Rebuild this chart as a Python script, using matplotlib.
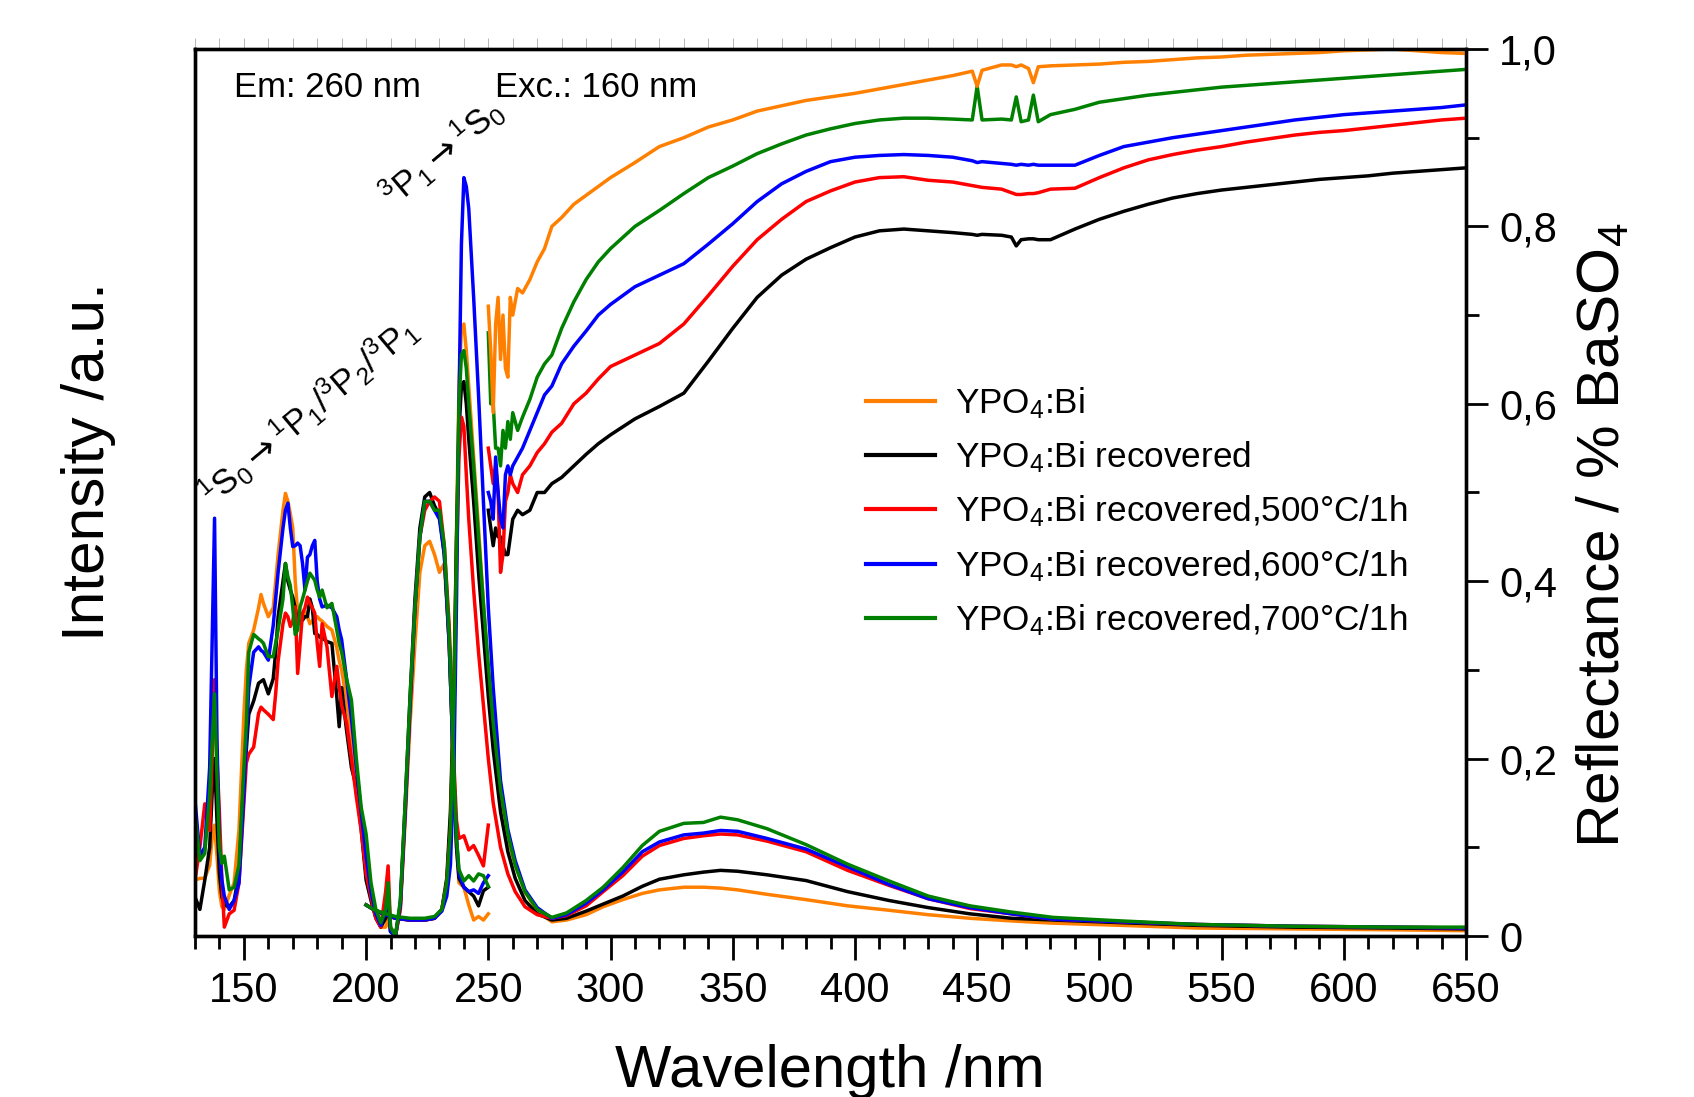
import matplotlib
matplotlib.use("Agg")
import matplotlib.pyplot as plt
from matplotlib.ticker import MultipleLocator, FixedLocator
from matplotlib.lines import Line2D

plt.rcParams['font.family'] = ['Liberation Sans', 'DejaVu Sans']
plt.rcParams['mathtext.fontset'] = 'custom'
plt.rcParams['mathtext.rm'] = 'Liberation Sans'
plt.rcParams['mathtext.it'] = 'Liberation Sans:italic'
plt.rcParams['mathtext.sf'] = 'DejaVu Sans'
plt.rcParams['mathtext.default'] = 'regular'

# ---------------- data ----------------
SAMPLES = ['YPO$_4$:Bi', 'YPO$_4$:Bi recovered', 'YPO$_4$:Bi recovered,500°C/1h',
           'YPO$_4$:Bi recovered,600°C/1h', 'YPO$_4$:Bi recovered,700°C/1h']
COLORS = ['#FF8000', '#000000', '#FF0000', '#0000FF', '#008000']

# excitation spectra (Em: 260 nm), 130-250 nm
X_WL = [130, 132, 134, 136, 137, 138, 139, 140, 141, 142, 144, 146, 148, 150, 151, 152, 154, 156, 157, 158,
        160, 162, 163, 164, 166, 167, 168, 169, 170, 171, 172, 173, 174, 175, 176, 177, 178, 179, 180, 181,
        182, 184, 186, 188, 189, 190, 192, 194, 196, 198, 200, 202, 204, 206, 208, 209, 210, 212, 214, 216,
        218, 220, 222, 224, 226, 228, 230, 232, 234, 235, 236, 237, 238, 240, 242, 244, 246, 248, 250]
X_ORANGE = [.063, .065, .065, .08, .11, .125, .09, .05, .033, .03, .046, .06, .12, .25, .3, .33, .345, .37, .385, .375,
            .36, .37, .40, .43, .48, .499, .49, .476, .46, .40, .365, .355, .36, .365, .36, .352, .355, .36, .36, .357,
            .355, .349, .345, .325, .31, .30, .265, .22, .175, .13, .085, .05, .025, .01, .01, .02, .005, .0, .03, .13,
            .24, .33, .41, .44, .445, .43, .41, .42, .33, .25, .17, .10, .06, .055, .035, .018, .022, .018, .025]
X_BLACK = [.044, .03, .063, .1, .16, .2, .13, .07, .044, .035, .033, .04, .07, .18, .21, .25, .265, .285, .287, .289,
           .273, .29, .32, .36, .40, .42, .40, .39, .382, .37, .352, .355, .356, .36, .36, .38, .37, .341, .34, .337,
           .336, .332, .33, .27, .236, .28, .232, .19, .168, .12, .063, .04, .02, .01, .02, .04, .005, .0, .035, .15,
           .27, .38, .46, .495, .50, .485, .475, .43, .33, .25, .16, .10, .065, .055, .05, .045, .034, .051, .055]
X_RED = [.063, .1, .149, .119, .2, .289, .2, .138, .063, .01, .025, .029, .06, .15, .195, .205, .213, .251, .258, .255,
         .25, .244, .273, .31, .352, .364, .36, .349, .355, .371, .296, .33, .364, .37, .382, .375, .37, .364, .33, .304,
         .352, .326, .27, .304, .281, .26, .24, .2, .157, .119, .07, .044, .02, .01, .05, .079, .01, .0, .03, .14,
         .26, .37, .45, .48, .49, .495, .49, .44, .35, .27, .19, .13, .11, .113, .097, .102, .091, .079, .125]
X_BLUE = [.153, .09, .1, .19, .33, .471, .22, .1, .063, .045, .03, .04, .06, .16, .22, .28, .32, .326, .322, .32,
          .311, .35, .38, .41, .46, .48, .488, .46, .439, .44, .443, .44, .42, .39, .427, .43, .44, .446, .40, .38,
          .371, .373, .37, .36, .345, .334, .29, .245, .19, .14, .09, .05, .025, .012, .03, .045, .005, .0, .035, .14,
          .26, .37, .45, .49, .49, .48, .47, .43, .33, .25, .17, .11, .07, .055, .05, .052, .048, .06, .068]
X_GREEN = [.138, .085, .093, .16, .22, .273, .18, .10, .082, .09, .052, .055, .08, .19, .24, .32, .34, .335, .333, .33,
           .315, .315, .33, .345, .38, .42, .405, .395, .37, .34, .345, .371, .38, .39, .40, .409, .405, .401, .39, .382,
           .39, .37, .375, .345, .33, .32, .29, .266, .2, .145, .115, .06, .03, .015, .03, .06, .01, .0, .04, .15,
           .27, .37, .45, .49, .49, .48, .48, .44, .34, .26, .18, .11, .075, .062, .068, .062, .07, .068, .056]

# emission spectra (Exc.: 160 nm), 200-650 nm
E_WL = [200, 203, 207, 212, 218, 224, 228, 231, 233, 234.5, 236, 237, 238, 239, 240, 241, 242, 244, 246, 248,
        250, 252, 255, 258, 261, 265, 270, 276, 282, 290, 297, 305, 313, 320, 330, 338, 345, 352, 364, 380,
        397, 414, 430, 447, 464, 481, 509, 540, 580, 620, 650]
E_ORANGE = [.035, .03, .024, .02, .018, .018, .02, .03, .06, .13, .28, .46, .62, .685, .69, .66, .62, .54, .46, .375,
            .30, .235, .16, .11, .08, .05, .028, .016, .018, .024, .033, .041, .048, .052, .055, .055, .054, .052, .047, .041,
            .034, .029, .024, .02, .017, .0145, .012, .009, .008, .007, .006]
E_BLACK = [.035, .03, .025, .02, .018, .018, .02, .03, .065, .14, .29, .45, .57, .62, .625, .6, .56, .49, .41, .34,
           .27, .21, .14, .095, .065, .04, .025, .018, .02, .028, .036, .045, .056, .064, .069, .072, .074, .073, .069, .0625,
           .05, .04, .032, .025, .02, .018, .015, .012, .01, .009, .008]
E_RED = [.035, .03, .025, .02, .018, .018, .02, .03, .06, .12, .26, .42, .54, .585, .575, .52, .47, .39, .32, .26,
         .2, .15, .1, .07, .05, .033, .024, .02, .023, .034, .05, .068, .09, .102, .11, .113, .115, .114, .107, .095,
         .074, .057, .042, .031, .025, .019, .016, .013, .011, .01, .009]
E_BLUE = [.035, .03, .025, .02, .018, .018, .02, .028, .045, .08, .2, .38, .6, .78, .855, .845, .82, .72, .61, .49,
          .37, .28, .175, .12, .085, .052, .032, .02, .024, .037, .052, .072, .095, .106, .114, .116, .119, .118, .11, .098,
          .078, .058, .042, .032, .025, .019, .016, .013, .011, .01, .009]
E_GREEN = [.035, .03, .026, .022, .02, .02, .022, .03, .06, .12, .27, .44, .6, .655, .66, .64, .6, .53, .45, .375,
           .305, .24, .165, .115, .08, .05, .03, .021, .026, .04, .055, .077, .102, .118, .127, .128, .134, .131, .121, .103,
           .081, .062, .045, .034, .027, .021, .017, .013, .011, .01, .01]

# diffuse reflectance (relative to BaSO4), 250-650 nm
R_WL = [250, 251, 252, 253, 254, 255, 256, 257, 258, 259, 260, 262, 264, 267, 270, 273, 276, 280, 285, 290,
        295, 300, 310, 320, 330, 340, 350, 360, 370, 380, 390, 400, 410, 420, 430, 440, 448, 450, 452, 460,
        464, 466, 468, 471, 473, 475, 480, 490, 500, 510, 520, 530, 540, 550, 560, 570, 580, 590, 600, 610,
        620, 630, 640, 650]
R_ORANGE = [.71, .66, .59, .69, .72, .65, .70, .64, .63, .72, .70, .73, .725, .74, .76, .775, .80, .81, .825, .835,
            .845, .855, .872, .89, .90, .912, .92, .93, .936, .942, .946, .95, .955, .96, .965, .97, .975, .958, .976, .982,
            .982, .98, .982, .978, .962, .98, .981, .982, .983, .985, .986, .988, .99, .991, .993, .994, .995, .996, .998, .999,
            1.0, .998, .996, .995]
R_BLACK = [.48, .46, .44, .46, .45, .45, .44, .43, .43, .45, .47, .48, .475, .48, .50, .50, .51, .517, .53, .543,
           .555, .565, .583, .597, .612, .648, .685, .72, .745, .763, .776, .788, .795, .797, .795, .793, .791, .79, .791, .79,
           .788, .778, .785, .786, .786, .785, .785, .797, .808, .817, .825, .832, .837, .841, .844, .847, .85, .853, .855, .857,
           .86, .862, .864, .866]
R_RED = [.55, .53, .51, .53, .50, .41, .43, .49, .50, .52, .51, .50, .52, .53, .545, .555, .568, .578, .60, .612,
         .628, .642, .655, .668, .69, .722, .755, .785, .808, .828, .84, .85, .855, .856, .852, .85, .846, .845, .844, .842,
         .838, .836, .836, .837, .837, .838, .842, .843, .855, .866, .875, .881, .886, .89, .895, .899, .903, .906, .908, .911,
         .914, .917, .92, .922]
R_BLUE = [.50, .49, .47, .54, .50, .47, .46, .52, .53, .52, .53, .54, .55, .57, .59, .61, .62, .645, .665, .682,
          .70, .712, .732, .745, .758, .78, .803, .828, .848, .862, .873, .878, .88, .881, .88, .878, .874, .872, .873, .871,
          .87, .869, .87, .869, .87, .869, .869, .869, .88, .89, .895, .9, .904, .908, .912, .916, .92, .923, .926, .928,
          .93, .932, .934, .937]
R_GREEN = [.68, .60, .60, .55, .55, .53, .57, .55, .58, .56, .59, .57, .585, .605, .63, .645, .655, .685, .715, .74,
           .76, .775, .80, .818, .837, .855, .868, .882, .893, .903, .91, .916, .92, .922, .922, .921, .92, .958, .92, .921,
           .92, .946, .918, .92, .948, .918, .926, .932, .94, .944, .948, .951, .954, .957, .959, .961, .963, .965, .967, .969,
           .971, .973, .975, .977]

X_TICKS = [150, 200, 250, 300, 350, 400, 450, 500, 550, 600, 650]
R_TICKS = [0, 0.2, 0.4, 0.6, 0.8, 1.0]
R_TICK_LABELS = ['0', '0,2', '0,4', '0,6', '0,8', '1,0']

EXC = [X_ORANGE, X_BLACK, X_RED, X_BLUE, X_GREEN]
EMI = [E_ORANGE, E_BLACK, E_RED, E_BLUE, E_GREEN]
REF = [R_ORANGE, R_BLACK, R_RED, R_BLUE, R_GREEN]

# ---------------- figure ----------------
W, H = 1694, 1097
fig = plt.figure(figsize=(W / 100, H / 100), dpi=100)
L, R, T, B = 195, 1466, 49, 936
ax = fig.add_axes([L / W, 1 - B / H, (R - L) / W, (B - T) / H])
ax2 = ax.twinx()

LW = 2.5
order = [1, 2, 3, 4, 0]  # black, red, blue, green, orange on top
for i in order:
    ax.plot(X_WL, EXC[i], color=COLORS[i], lw=LW, zorder=2 + i * 0.01)
    ax.plot(E_WL, EMI[i], color=COLORS[i], lw=LW, zorder=2 + i * 0.01)
    ax2.plot(R_WL, REF[i], color=COLORS[i], lw=LW)

ax.set_xlim(130, 650)
ax.set_ylim(0, 1.0)
ax2.set_ylim(0, 1.0)

# x axis ticks
ax.xaxis.set_major_locator(FixedLocator(X_TICKS))
ax.xaxis.set_minor_locator(MultipleLocator(10))
ax.tick_params(axis='x', which='major', direction='out', length=17, width=2.0,
               labelsize=30, pad=8, top=False)
ax.tick_params(axis='x', which='minor', direction='out', length=9, width=2.0, top=False)
ax.set_yticks([])
ax.tick_params(axis='y', left=False, labelleft=False)

# faint ticks along the top spine
axt = ax.secondary_xaxis('top')
axt.xaxis.set_major_locator(MultipleLocator(10))
axt.tick_params(axis='x', which='major', direction='out', length=8, width=0.6,
                color='#aaaaaa', labeltop=False)
axt.spines['top'].set_visible(False)

# right axis
ax2.yaxis.set_major_locator(FixedLocator(R_TICKS))
ax2.set_yticklabels(R_TICK_LABELS)
ax2.yaxis.set_minor_locator(MultipleLocator(0.1))
ax2.tick_params(axis='y', which='major', direction='out', length=16, width=2.0,
                labelsize=30, pad=8)
ax2.tick_params(axis='y', which='minor', direction='out', length=9, width=2.0)

for a in (ax, ax2):
    for s in a.spines.values():
        s.set_linewidth(2.4)

# labels
fig.text(830 / W, 1 - 1044 / H, 'Wavelength /nm', fontsize=43, ha='center', va='top')
fig.text(89 / W, 1 - 462 / H, 'Intensity /a.u.', fontsize=43.5, ha='center', va='center', rotation=90)
fig.text(1604 / W, 1 - 535 / H, 'Reflectance / % BaSO$_4$', fontsize=43.5, ha='center', va='center',
         rotation=90)

ax.text(0.0304, 0.946, 'Em: 260 nm', transform=ax.transAxes, fontsize=25, va='baseline', ha='left')
ax.text(0.236, 0.946, 'Exc.: 160 nm', transform=ax.transAxes, fontsize=25, va='baseline', ha='left')

ax.text(137.5, 0.483, r'$^1$S$_0$$\mathsf{\rightarrow}$$^1$P$_1$/$^3$P$_2$/$^3$P$_1$', fontsize=25,
        rotation=40, rotation_mode='anchor', ha='left', va='baseline')
ax.text(211.5, 0.82, r'$^3$P$_1$$\mathsf{\rightarrow}$$^1$S$_0$', fontsize=25,
        rotation=40, rotation_mode='anchor', ha='left', va='baseline')

# legend
handles = [Line2D([], [], color=COLORS[i], lw=3) for i in range(5)]
ax2.legend(handles, SAMPLES, loc='upper left', bbox_to_anchor=((866 - L) / (R - L), (B - 385) / (B - T)),
           frameon=False, fontsize=25.3, handlelength=1.95, handletextpad=0.57, labelspacing=0.53,
           borderaxespad=0, borderpad=0)

fig.savefig('out.png', dpi=100)
